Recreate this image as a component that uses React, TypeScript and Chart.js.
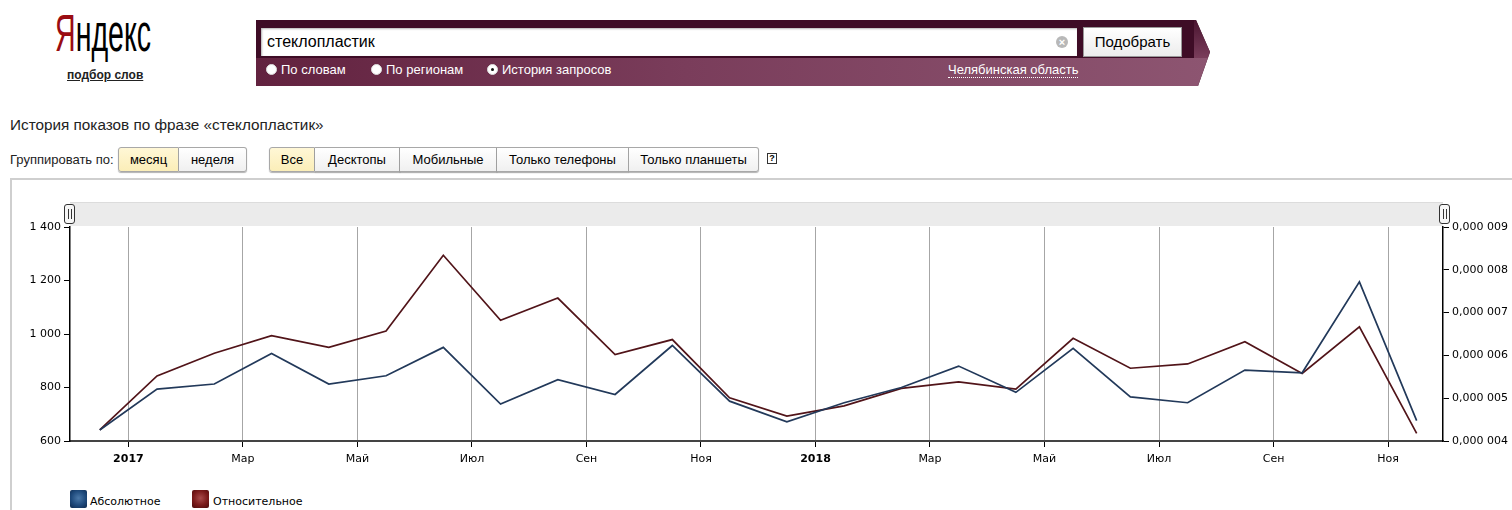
import React, { useEffect, useRef } from 'react';
import { Chart, registerables } from 'chart.js';

Chart.register(...registerables);

// ---- Data ----
const MONTHS = [
  'Дек 2016', 'Янв 2017', 'Фев 2017', 'Мар 2017', 'Апр 2017', 'Май 2017', 'Июн 2017',
  'Июл 2017', 'Авг 2017', 'Сен 2017', 'Окт 2017', 'Ноя 2017', 'Дек 2017', 'Янв 2018',
  'Фев 2018', 'Мар 2018', 'Апр 2018', 'Май 2018', 'Июн 2018', 'Июл 2018', 'Авг 2018',
  'Сен 2018', 'Окт 2018', 'Ноя 2018',
];
const ABSOLUTE = [
  641, 794, 813, 927, 813, 844, 950, 738, 829, 774, 957, 749,
  672, 743, 800, 880, 782, 946, 765, 743, 865, 855, 1195, 676,
];
const RELATIVE = [
  0.00000426, 0.00000552, 0.00000605, 0.00000646, 0.00000619, 0.00000657,
  0.00000834, 0.00000682, 0.00000734, 0.00000602, 0.00000637, 0.00000501,
  0.00000458, 0.00000482, 0.00000523, 0.00000538, 0.00000521, 0.0000064,
  0.0000057, 0.0000058, 0.00000632, 0.00000558, 0.00000667, 0.00000418,
];
const X_TICK_LABELS = ['2017', 'Мар', 'Май', 'Июл', 'Сен', 'Ноя', '2018', 'Мар', 'Май', 'Июл', 'Сен', 'Ноя'];
const X_BOLD_LABELS = ['2017', '2018'];
const LEFT_TICKS = [600, 800, 1000, 1200, 1400];
const LEFT_TICK_LABELS = ['600', '800', '1 000', '1 200', '1 400'];
const RIGHT_TICKS = [0.000004, 0.000005, 0.000006, 0.000007, 0.000008, 0.000009];
const RIGHT_TICK_LABELS = ['0,000 004', '0,000 005', '0,000 006', '0,000 007', '0,000 008', '0,000 009'];
const SERIES_NAMES = ['Абсолютное', 'Относительное'];

const BLUE = '#22395a';
const RED = '#511419';
const AXIS_FONT = { family: '"DejaVu Sans", Verdana, sans-serif', size: 11 };

function ChartCanvas() {
  const ref = useRef<HTMLCanvasElement | null>(null);
  useEffect(() => {
    if (!ref.current) return;
    const chart = new Chart(ref.current, {
      type: 'line',
      data: {
        labels: MONTHS,
        datasets: [
          {
            label: SERIES_NAMES[0],
            data: ABSOLUTE.map((v, i) => ({ x: i - 0.5, y: v })),
            borderColor: BLUE,
            borderWidth: 1.7,
            pointRadius: 0,
            tension: 0,
            yAxisID: 'y',
          },
          {
            label: SERIES_NAMES[1],
            data: RELATIVE.map((v, i) => ({ x: i - 0.5, y: v })),
            borderColor: RED,
            borderWidth: 1.7,
            pointRadius: 0,
            tension: 0,
            yAxisID: 'y1',
          },
        ],
      },
      options: {
        animation: false,
        responsive: false,
        devicePixelRatio: 1,
        layout: { padding: { top: 27, left: 0, right: 0, bottom: 0 } },
        plugins: { legend: { display: false }, tooltip: { enabled: false } },
        scales: {
          x: {
            type: 'linear',
            min: -1.02,
            max: 22.96,
            afterBuildTicks: (scale: any) => {
              scale.ticks = X_TICK_LABELS.map((_, k) => ({ value: k * 2 }));
            },
            afterFit: (scale: any) => { scale.height = 34; },
            ticks: {
              color: '#000',
              padding: 6,
              maxRotation: 0,
              autoSkip: false,
              font: (ctx: any) => {
                const lbl = X_TICK_LABELS[ctx.index];
                return { ...AXIS_FONT, weight: X_BOLD_LABELS.includes(lbl) ? 'bold' : 'normal' };
              },
              callback: (_v: any, index: number) => X_TICK_LABELS[index],
            },
            grid: {
              color: '#a6a6a6',
              lineWidth: 1,
              tickLength: 6,
              tickColor: '#000',
            },
            border: { display: true, color: '#444', width: 2 },
          },
          y: {
            type: 'linear',
            position: 'left',
            min: 600,
            max: 1400,
            afterBuildTicks: (scale: any) => {
              scale.ticks = LEFT_TICKS.map((v) => ({ value: v }));
            },
            afterFit: (scale: any) => { scale.width = 70; },
            ticks: {
              color: '#000',
              padding: 3,
              font: AXIS_FONT,
              callback: (_v: any, index: number) => LEFT_TICK_LABELS[index],
            },
            grid: { drawOnChartArea: false, tickLength: 6, tickColor: '#000' },
            border: { display: true, color: '#000', width: 1.5 },
          },
          y1: {
            type: 'linear',
            position: 'right',
            min: 0.000004,
            max: 0.000009,
            afterBuildTicks: (scale: any) => {
              scale.ticks = RIGHT_TICKS.map((v) => ({ value: v }));
            },
            afterFit: (scale: any) => { scale.width = 69; },
            ticks: {
              color: '#000',
              padding: 3,
              font: AXIS_FONT,
              callback: (_v: any, index: number) => RIGHT_TICK_LABELS[index],
            },
            grid: { drawOnChartArea: false, tickLength: 6, tickColor: '#000' },
            border: { display: true, color: '#000', width: 1.5 },
          },
        },
      },
    } as any);
    return () => chart.destroy();
  }, []);
  return (
    <canvas
      ref={ref}
      width={1512}
      height={275}
      style={{ position: 'absolute', left: 0, top: 200, width: 1512, height: 275 }}
    />
  );
}

const abs = (s: React.CSSProperties): React.CSSProperties => ({ position: 'absolute', ...s });

function Btn({ left, width, text, selected, first, last }: any) {
  return (
    <div
      style={abs({
        left,
        top: 147,
        width,
        height: 25,
        boxSizing: 'border-box',
        border: '1px solid #a8a8a8',
        borderLeft: first ? '1px solid #a8a8a8' : 'none',
        borderRadius: first ? '3px 0 0 3px' : last ? '0 3px 3px 0' : 0,
        background: selected
          ? 'linear-gradient(#fff7d6, #fbeeb8)'
          : 'linear-gradient(#ffffff, #f0f0f0)',
        boxShadow: '0 1px 1px rgba(0,0,0,0.3)',
        fontSize: 13,
        lineHeight: '23px',
        textAlign: 'center',
        color: '#000',
        whiteSpace: 'nowrap',
      })}
    >
      {text}
    </div>
  );
}

function Radio({ left, text, checked }: any) {
  return (
    <>
      <div
        style={abs({
          left,
          top: 64,
          width: 11,
          height: 11,
          borderRadius: '50%',
          background: '#fff',
          boxSizing: 'border-box',
          border: '1px solid #ddd',
        })}
      >
        {checked && (
          <div style={abs({ left: 3, top: 3, width: 3, height: 3, borderRadius: '50%', background: '#111' })} />
        )}
      </div>
      <div style={abs({ left: left + 15, top: 62, fontSize: 13, lineHeight: '15px', color: '#fff', whiteSpace: 'nowrap' })}>
        {text}
      </div>
    </>
  );
}

export default function App() {
  return (
    <div
      style={{
        position: 'absolute',
        left: 0,
        top: 0,
        width: 1512,
        height: 510,
        overflow: 'hidden',
        background: '#fff',
        fontFamily: '"Liberation Sans", Arial, sans-serif',
      }}
    >
      {/* Logo */}
      <div
        style={abs({
          left: 55,
          top: 9,
          fontSize: 51,
          lineHeight: '50px',
          transform: 'scaleX(0.56)',
          transformOrigin: 'left top',
          whiteSpace: 'nowrap',
        })}
      >
        <span style={{ color: '#9a0c12' }}>Я</span>
        <span style={{ color: '#000' }}>ндекс</span>
      </div>
      <div
        style={abs({
          left: 67,
          top: 68,
          fontSize: 12,
          fontWeight: 'bold',
          textDecoration: 'underline',
          color: '#222',
          whiteSpace: 'nowrap',
        })}
      >
        подбор слов
      </div>

      {/* Search panel */}
      <div
        style={abs({
          left: 256,
          top: 20,
          width: 955,
          height: 66,
          background: '#3e0c26',
          clipPath: 'polygon(0 0, 940px 0, 954px 32px, 942px 66px, 0 66px)',
        })}
      >
        <div
          style={abs({
            left: 0,
            top: 38,
            width: 955,
            height: 28,
            background: 'linear-gradient(to right, #62223f 0%, #7a3d5b 45%, #8d5571 100%)',
          })}
        />
        <div
          style={abs({
            left: 938,
            top: 0,
            width: 17,
            height: 38,
            background: 'linear-gradient(to bottom, #4a1530, #7a3d5b)',
          })}
        />
      </div>
      <div
        style={abs({
          left: 261,
          top: 28,
          width: 816,
          height: 28,
          background: '#fff',
          boxShadow: 'inset 1px 1px 2px rgba(0,0,0,0.3)',
        })}
      >
        <div style={abs({ left: 6, top: 5, fontSize: 16, lineHeight: '18px', color: '#000' })}>стеклопластик</div>
        <div
          style={abs({
            left: 795,
            top: 8,
            width: 12,
            height: 12,
            borderRadius: '50%',
            background: '#b8b8b8',
            color: '#fff',
            fontSize: 11,
            lineHeight: '12px',
            textAlign: 'center',
            fontWeight: 'bold',
          })}
        >
          ×
        </div>
      </div>
      <div
        style={abs({
          left: 1083,
          top: 27,
          width: 99,
          height: 30,
          boxSizing: 'border-box',
          border: '1px solid #999',
          background: 'linear-gradient(#ffffff, #ececec)',
          fontSize: 15,
          lineHeight: '28px',
          textAlign: 'center',
          color: '#000',
        })}
      >
        Подобрать
      </div>
      <Radio left={266} text="По словам" />
      <Radio left={371} text="По регионам" />
      <Radio left={487} text="История запросов" checked />
      <div
        style={abs({
          left: 948,
          top: 62,
          fontSize: 13,
          lineHeight: '15px',
          color: '#fff',
          whiteSpace: 'nowrap',
          borderBottom: '1px dotted #fff',
        })}
      >
        Челябинская область
      </div>

      {/* Title */}
      <div style={abs({ left: 10, top: 116, fontSize: 15.3, lineHeight: '18px', color: '#222', whiteSpace: 'nowrap' })}>
        История показов по фразе «стеклопластик»
      </div>

      {/* Grouping */}
      <div style={abs({ left: 10, top: 152, fontSize: 13, lineHeight: '15px', color: '#222', whiteSpace: 'nowrap' })}>
        Группировать по:
      </div>
      <Btn left={118} width={61} text="месяц" selected first />
      <Btn left={179} width={68} text="неделя" last />
      <Btn left={269} width={46} text="Все" selected first />
      <Btn left={315} width={85} text="Десктопы" />
      <Btn left={400} width={97} text="Мобильные" />
      <Btn left={497} width={132} text="Только телефоны" />
      <Btn left={629} width={130} text="Только планшеты" last />
      <div
        style={abs({
          left: 767,
          top: 153,
          width: 10,
          height: 11,
          boxSizing: 'border-box',
          border: '1px solid #333',
          fontSize: 9,
          lineHeight: '9px',
          textAlign: 'center',
          fontWeight: 'bold',
          color: '#000',
        })}
      >
        ?
      </div>

      {/* Chart container */}
      <div
        style={abs({
          left: 10,
          top: 178,
          width: 1520,
          height: 400,
          borderTop: '2px solid #cfcfcf',
          borderLeft: '2px solid #cfcfcf',
        })}
      />

      {/* Navigator bar */}
      <div
        style={abs({
          left: 70,
          top: 202,
          width: 1373,
          height: 24,
          background: '#ebebeb',
          borderTop: '1px solid #dcdcdc',
          boxSizing: 'border-box',
        })}
      />
      {[64, 1439].map((l) => (
        <div
          key={l}
          style={abs({
            left: l,
            top: 204,
            width: 11,
            height: 20,
            boxSizing: 'border-box',
            border: '1px solid #333',
            borderRadius: 3,
            background: '#f6f6f6',
          })}
        >
          <div style={abs({ left: 3, top: 4, width: 1, height: 10, background: '#333' })} />
          <div style={abs({ left: 6, top: 4, width: 1, height: 10, background: '#333' })} />
        </div>
      ))}

      <ChartCanvas />

      {/* Legend */}
      {SERIES_NAMES.map((name, i) => (
        <React.Fragment key={name}>
          <div
            style={abs({
              left: i === 0 ? 70 : 192,
              top: 490,
              width: 17,
              height: 18,
              borderRadius: 2,
              background:
                i === 0
                  ? 'radial-gradient(circle at 50% 45%, #4a78a8 0%, #1e4a7c 55%, #0e2a4e 100%)'
                  : 'radial-gradient(circle at 50% 45%, #a84a4a 0%, #7a1a1a 55%, #4a0a0a 100%)',
            })}
          />
          <div
            style={abs({
              left: i === 0 ? 90 : 213,
              top: 495,
              fontSize: 11,
              lineHeight: '13px',
              fontFamily: '"DejaVu Sans", Verdana, sans-serif',
              color: '#000',
              whiteSpace: 'nowrap',
            })}
          >
            {name}
          </div>
        </React.Fragment>
      ))}
    </div>
  );
}
